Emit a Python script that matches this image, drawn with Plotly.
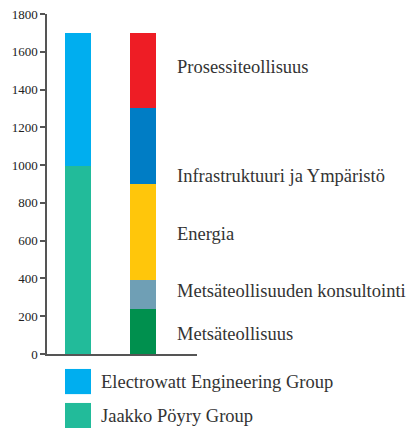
import plotly.graph_objects as go

categories = ["Jaakko Pöyry Group", "Electrowatt"]

# left bar
left_series = ["Jaakko Pöyry Group", "Electrowatt Engineering Group"]
left_values = [995, 705]
left_colors = ["#22BB9A", "#00AEEF"]

# right bar (bottom to top)
right_series = ["Metsäteollisuus", "Metsäteollisuuden konsultointi", "Energia",
                "Infrastruktuuri ja Ympäristö", "Prosessiteollisuus"]
right_values = [240, 153, 505, 407, 395]
right_colors = ["#00904E", "#6F9FB5", "#FFC60B", "#007DC5", "#EE1D25"]
label_y = [106, 335, 633, 945, 1520]

tick_vals = [0, 200, 400, 600, 800, 1000, 1200, 1400, 1600, 1800]

FONT = "Liberation Serif"
TXT = "#333333"

fig = go.Figure()
for name, v, c in zip(left_series, left_values, left_colors):
    fig.add_trace(go.Bar(x=[0], y=[v], name=name, marker=dict(color=c, line=dict(width=0)),
                         width=0.4, showlegend=False))
for name, v, c in zip(right_series, right_values, right_colors):
    fig.add_trace(go.Bar(x=[1], y=[v], name=name, marker=dict(color=c, line=dict(width=0)),
                         width=0.4, showlegend=False))

annotations = []
for name, y in zip(right_series, label_y):
    annotations.append(dict(x=1.49, y=y, xref="x", yref="y", text=name, showarrow=False,
                            xanchor="left", yanchor="middle",
                            font=dict(family=FONT, size=18.5, color=TXT)))

# legend (squares + text)
shapes = []
legend_items = [("Electrowatt Engineering Group", "#00AEEF", -0.044, -0.118),
                ("Jaakko Pöyry Group", "#22BB9A", -0.144, -0.218)]
for text, c, y0, y1 in legend_items:
    shapes.append(dict(type="rect", xref="x", yref="paper", x0=-0.2, x1=0.2, y0=y1, y1=y0,
                       fillcolor=c, line=dict(width=0)))
    annotations.append(dict(x=0.33, y=(y0 + y1) / 2, xref="x", yref="paper", text=text,
                            showarrow=False, xanchor="left", yanchor="middle",
                            font=dict(family=FONT, size=18.5, color=TXT)))

fig.update_layout(
    width=411, height=428,
    margin=dict(l=47, r=214, t=14, b=74, autoexpand=False),
    barmode="stack",
    bargap=0,
    plot_bgcolor="white", paper_bgcolor="white",
    font=dict(family=FONT, color=TXT),
    showlegend=False,
    annotations=annotations,
    shapes=shapes,
    xaxis=dict(range=[-0.477, 1.83], showticklabels=False, ticks="", showgrid=False,
               zeroline=False, showline=True, linecolor="#555555", linewidth=1.5),
    yaxis=dict(range=[0, 1800], tickvals=tick_vals, ticks="outside", ticklen=5,
               tickcolor="#555555", tickwidth=1.5, showgrid=False, zeroline=False,
               showline=True, linecolor="#555555", linewidth=1.5,
               tickfont=dict(family=FONT, size=13, color="#222222")),
)

fig.write_html("out.html", config={"displayModeBar": False},
               post_script="document.body.style.margin='0';")
